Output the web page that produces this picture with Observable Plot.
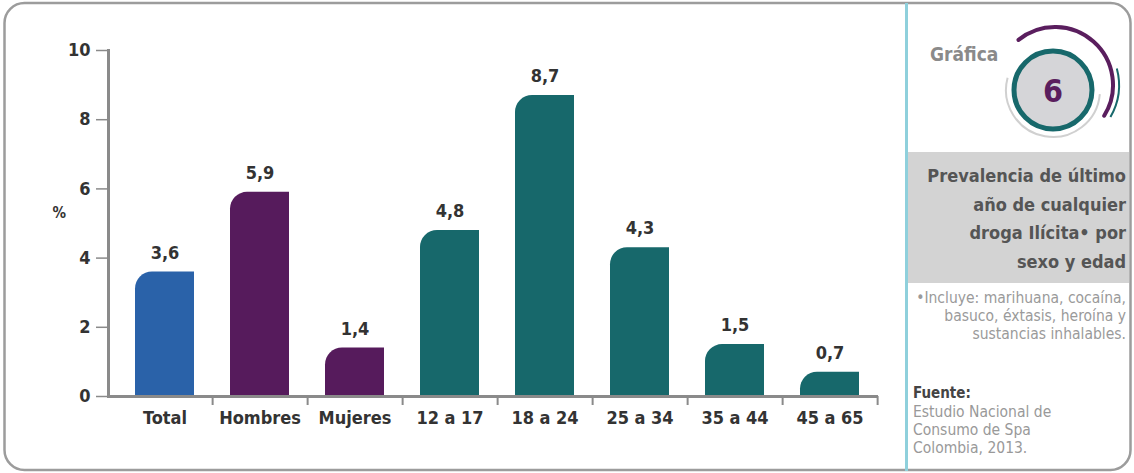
<!DOCTYPE html>
<html>
<head>
<meta charset="utf-8">
<script src="https://cdn.jsdelivr.net/npm/d3@7"></script>
<script src="https://cdn.jsdelivr.net/npm/@observablehq/plot@0.6"></script>
<style>
  html, body { margin: 0; padding: 0; background: #fff; }
  body { width: 1134px; height: 473px; position: relative; overflow: hidden; }
  #chart { position: absolute; left: 0; top: 0; }
  #overlay { position: absolute; left: 0; top: 0; }
  .cond { font-family: "DejaVu Sans Condensed", "DejaVu Sans", sans-serif; font-stretch: condensed; }
</style>
</head>
<body>
<div id="chart"></div>
<svg id="overlay" width="1134" height="473" class="cond">
  <rect x="4.5" y="3" width="1126" height="467" rx="20" ry="20" fill="none" stroke="#9c9c9c" stroke-width="2.5"/>
  <line x1="906.5" y1="3" x2="906.5" y2="471" stroke="#8fd0dc" stroke-width="3"/>
  <rect x="908" y="152" width="221" height="131" fill="#d3d3d3"/>
  <g id="badge"></g>
  <g id="paneltext"></g>
</svg>
<script>
// ---- data ----
const categories = ["Total", "Hombres", "Mujeres", "12 a 17", "18 a 24", "25 a 34", "35 a 44", "45 a 65"];
const values = [3.6, 5.9, 1.4, 4.8, 8.7, 4.3, 1.5, 0.7];
const groups = ["Total", "Sexo", "Sexo", "Edad", "Edad", "Edad", "Edad", "Edad"];
const groupNames = ["Total", "Sexo", "Edad"];
const groupColors = ["#2a62a9", "#561b5c", "#17686b"];
const yTicks = [0, 2, 4, 6, 8, 10];
const yLabel = "%";
const badgeLabel = "Gráfica";
const badgeNumber = "6";
const titleLines = ["Prevalencia de último", "año de cualquier", "droga Ilícita\u2022 por", "sexo y edad"];
const noteLines = ["\u2022Incluye: marihuana, cocaína,", "basuco, éxtasis, heroína y", "sustancias inhalables."];
const sourceHead = "Fuente:";
const sourceLines = ["Estudio Nacional de", "Consumo de Spa", "Colombia, 2013."];

const data = categories.map((c, i) => ({cat: c, value: values[i], group: groups[i]}));

// ---- layout ----
const W = 905, H = 473;
const mTop = 50, mBottom = 77, mLeft = 108, mRight = 27;
const step = (W - mLeft - mRight - 8) / categories.length;
const frameH = H - mTop - mBottom;
const axisColor = "#8a8a8a";
const textColor = "#333333";
const fontFam = '"DejaVu Sans Condensed", "DejaVu Sans", sans-serif';

const chart = Plot.plot({
  width: W,
  height: H,
  marginTop: mTop,
  marginBottom: mBottom,
  marginLeft: mLeft,
  marginRight: mRight,
  style: {background: "transparent", fontFamily: fontFam, fontSize: "18px", fontWeight: "bold", fontStretch: "condensed", overflow: "visible"},
  x: {domain: categories, paddingInner: 0.38, paddingOuter: 0.19, insetLeft: 8, label: null},
  y: {domain: [0, 10], label: null},
  color: {domain: groupNames, range: groupColors},
  marks: [
    Plot.barY(data, {x: "cat", y: "value", fill: "group", rx1y1: 17}),
    Plot.ruleY([0], {stroke: axisColor, strokeWidth: 3}),
    Plot.frame({anchor: "left", stroke: axisColor, strokeWidth: 3}),
    Plot.ruleX(categories, {x: d => d, dx: step / 2, insetTop: frameH, insetBottom: -9, stroke: axisColor, strokeWidth: 2}),
    Plot.axisY({ticks: yTicks, tickSize: 12, tickPadding: 6, stroke: axisColor, strokeWidth: 1.5, fill: textColor, label: null}),
    Plot.axisX({tickSize: 0, tickPadding: 15, fill: textColor, label: null}),
    Plot.text(data, {x: "cat", y: "value", text: d => d.value.toFixed(1).replace(".", ","), dy: -19, fill: textColor}),
    Plot.text([yLabel], {frameAnchor: "left", dx: -56, dy: -10, fill: textColor, fontSize: 15})
  ]
});
document.getElementById("chart").appendChild(chart);

// ---- right panel (text + badge) ----
const NS = "http://www.w3.org/2000/svg";
function el(parent, tag, attrs, txt) {
  const e = document.createElementNS(NS, tag);
  for (const k in attrs) e.setAttribute(k, attrs[k]);
  if (txt != null) e.textContent = txt;
  parent.appendChild(e);
  return e;
}
const badge = document.getElementById("badge");
function arc(cx, cy, r, a0, a1) {
  const p = a => [cx + r * Math.sin(a * Math.PI / 180), cy - r * Math.cos(a * Math.PI / 180)];
  const [x0, y0] = p(a0), [x1, y1] = p(a1);
  const large = (a1 - a0) > 180 ? 1 : 0;
  return `M${x0},${y0}A${r},${r} 0 ${large} 1 ${x1},${y1}`;
}
el(badge, "path", {d: arc(1053, 90, 47, 95, 285), fill: "none", stroke: "#d0d0d0", "stroke-width": 2});
el(badge, "circle", {cx: 1053, cy: 90, r: 39, fill: "#d5d5d8", stroke: "#17686b", "stroke-width": 5});
el(badge, "path", {d: arc(1055, 85, 58, -39, 122), fill: "none", stroke: "#5a1e5e", "stroke-width": 4, "stroke-linecap": "round"});
el(badge, "path", {d: arc(1055, 85, 64, 75, 120), fill: "none", stroke: "#17686b", "stroke-width": 2});
el(badge, "text", {x: 1053, y: 102, "text-anchor": "middle", "font-size": 32, "font-weight": "bold", fill: "#5a1e5e"}, badgeNumber);
el(badge, "text", {x: 930, y: 61, "font-size": 19, "font-weight": "bold", fill: "#8a8a8a"}, badgeLabel);

const pt = document.getElementById("paneltext");
titleLines.forEach((t, i) => el(pt, "text", {x: 1126, y: 182 + i * 28.7, "text-anchor": "end", "font-size": 18, "font-weight": "bold", fill: "#555555"}, t));
noteLines.forEach((t, i) => el(pt, "text", {x: 1126, y: 302.5 + i * 18, "text-anchor": "end", "font-size": 15.5, fill: "#9a9a9a"}, t));
el(pt, "text", {x: 913, y: 398, "font-size": 15, "font-weight": "bold", fill: "#444444"}, sourceHead);
sourceLines.forEach((t, i) => el(pt, "text", {x: 913, y: 416.5 + i * 18.3, "font-size": 15.5, fill: "#999999"}, t));
</script>
</body>
</html>
